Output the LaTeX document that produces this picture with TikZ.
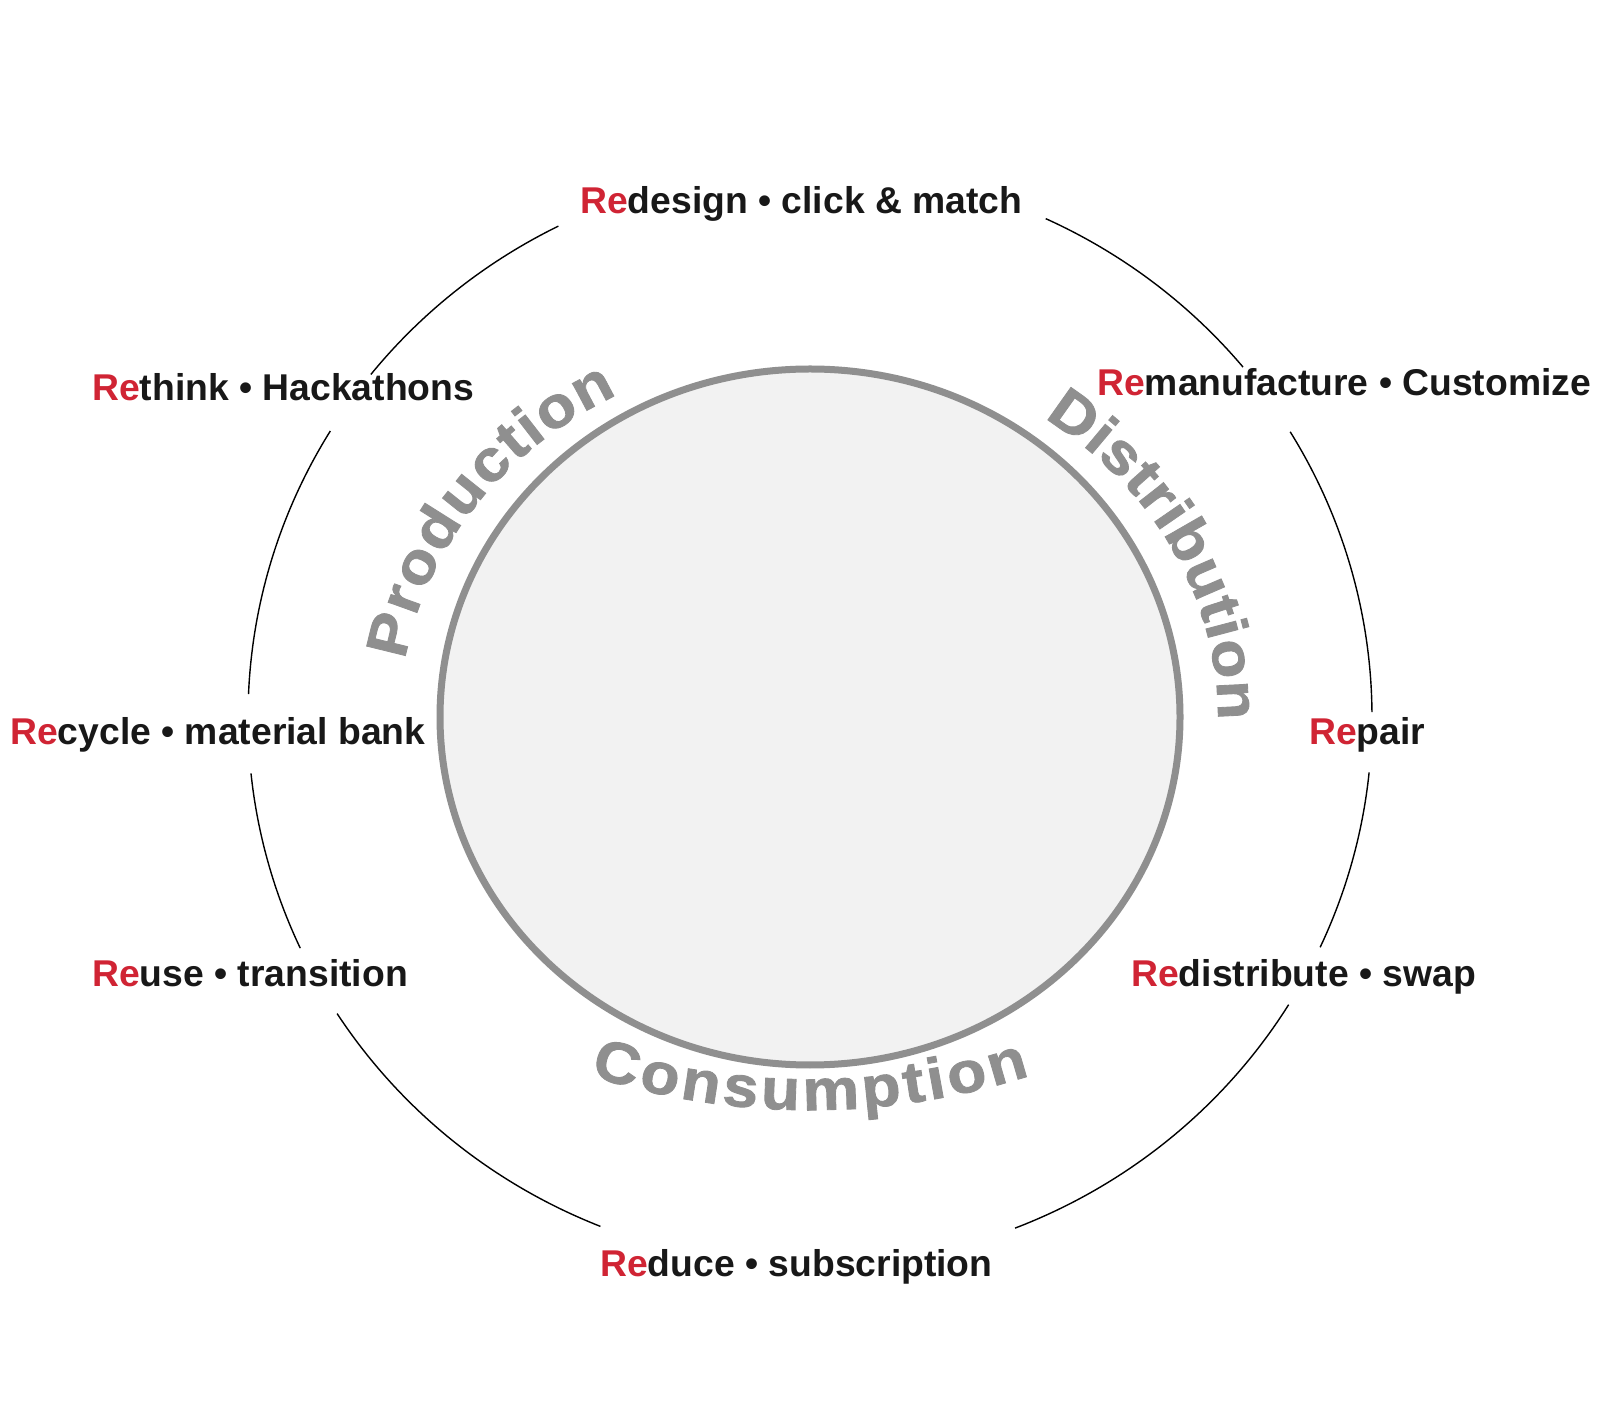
\documentclass[tikz,border=0pt]{standalone}
\usepackage{fontspec}
\setmainfont{Liberation Sans}
\newfontfamily\arcfont[FakeStretch=1.1,FakeBold=1.5]{Liberation Sans}
\usetikzlibrary{decorations.text,calc,shapes.geometric}
\definecolor{rered}{RGB}{208,36,52}
\definecolor{txtblack}{RGB}{24,24,24}
\definecolor{ringgray}{RGB}{143,143,143}
\definecolor{fillgray}{RGB}{242,242,242}
\newcommand{\arcstyle}{\arcfont\bfseries\fontsize{58pt}{60pt}\selectfont\color{ringgray}}
\begin{document}
\begin{tikzpicture}[x=1pt,y=1pt,
  lbl/.style={anchor=base west, inner sep=0pt, font=\fontsize{37.3pt}{40pt}\selectfont\bfseries, text=txtblack},
  ring/.style={line width=1.4pt, black},
  curvetext/.style={decorate, decoration={text along path, text align={fit to path}}}]
\useasboundingbox (0,0) rectangle (1600,1409);
\coordinate (C) at (810,692);
\coordinate (CC) at (810,1019);
% inner disc
\node[draw=ringgray, fill=fillgray, line width=7pt, ellipse, minimum width=740pt, minimum height=696pt, inner sep=0pt] (disc) at (C) {};
% outer ring arcs
\foreach \a/\b in {116.6/141.4, 39.6/65.2, 148.6/177.6, 0.5/31.3, 185.9/204.9, 335.2/354.2, 212.7/248.1, 291.4/328.4}
  \draw[ring] ($(C)+(\a:562pt and 549pt)$) arc[start angle=\a, end angle=\b, x radius=562pt, y radius=549pt];
% labels
\node[lbl] (redesign) at (580,1195) {\textcolor{rered}{Re}design • click \& match};
\node[lbl] (rethink) at (92,1008) {\textcolor{rered}{Re}think • Hackathons};
\node[lbl] (reman) at (1097,1013) {\textcolor{rered}{Re}manufacture • Customize};
\node[lbl] (recycle) at (10,664) {\textcolor{rered}{Re}cycle • material bank};
\node[lbl] (repair) at (1309,664) {\textcolor{rered}{Re}pair};
\node[lbl] (reuse) at (92,422) {\textcolor{rered}{Re}use • transition};
\node[lbl] (redist) at (1131,422) {\textcolor{rered}{Re}distribute • swap};
\node[lbl] (reduce) at (600,133) {\textcolor{rered}{Re}duce • subscription};
% curved words
\path[curvetext, decoration={text={|\arcstyle|Production}}]
  ($(C)+(171:410pt and 365pt)$) arc[start angle=171, end angle=118, x radius=410pt, y radius=365pt];
\path[curvetext, decoration={text={|\arcstyle|Distribution}}]
  ($(C)+(55:408pt and 365pt)$) arc[start angle=55, end angle=-0.5, x radius=408pt, y radius=365pt];
\path[curvetext, decoration={text={|\arcstyle|Consumption}}]
  ($(CC)+(252.2:720pt)$) arc[start angle=252.2, end angle=287.8, radius=720pt];
\end{tikzpicture}
\end{document}
